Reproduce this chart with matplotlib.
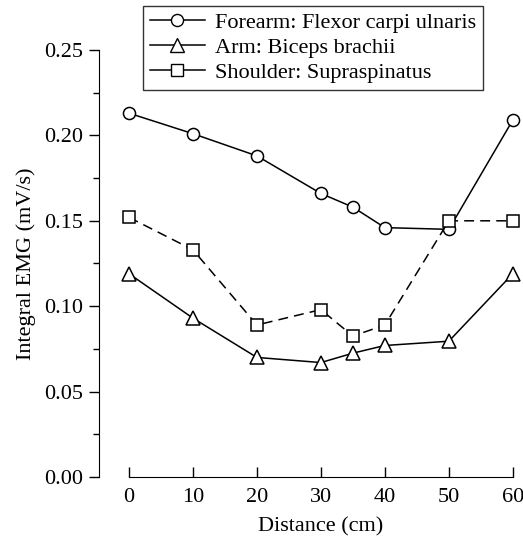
import matplotlib.pyplot as plt
import numpy as np
from matplotlib.lines import Line2D
from matplotlib.ticker import MultipleLocator

plt.rcParams['font.family'] = ['Liberation Serif', 'DejaVu Serif']

distance = [0, 10, 20, 30, 35, 40, 50, 60]
forearm = [0.213, 0.201, 0.188, 0.166, 0.158, 0.146, 0.145, 0.209]
arm = [0.119, 0.093, 0.070, 0.067, 0.0725, 0.077, 0.0795, 0.119]
shoulder = [0.152, 0.133, 0.089, 0.098, 0.0825, 0.089, 0.150, 0.150]

labels = ['Forearm: Flexor carpi ulnaris', 'Arm: Biceps brachii',
          'Shoulder: Supraspinatus']
xticks = [0, 10, 20, 30, 40, 50, 60]

fs = 16
W, H = 523, 539
fig = plt.figure(figsize=(W / 100, H / 100), dpi=100)
ax = fig.add_axes([99 / W, 62 / H, 417 / W, 427 / H])

mk = dict(color='black', lw=1.1, mfc='white', mec='black', mew=1.1, clip_on=False)
ax.plot(distance, forearm, '-', marker='o', ms=8.7, **mk)
ax.plot(distance, arm, '-', marker='^', ms=9.5, **mk)
ax.plot(distance, shoulder, '--', marker='s', ms=8.2, dashes=(6.5, 4), **mk)

ax.set_xlim(-4.69, 60.5)
ax.set_ylim(0, 0.25)
ax.spines['top'].set_visible(False)
ax.spines['right'].set_visible(False)
ax.spines['bottom'].set_bounds(0, 60)
ax.spines['left'].set_bounds(0, 0.25)

ax.set_xticks(xticks)
ax.yaxis.set_major_locator(MultipleLocator(0.05))
ax.yaxis.set_minor_locator(MultipleLocator(0.025))
ax.yaxis.set_major_formatter(lambda v, p: f'{v:.2f}')
ax.tick_params(axis='x', direction='in', length=7, width=1, labelsize=fs, pad=8)
ax.tick_params(axis='y', which='major', direction='out', length=7.5, width=1, labelsize=fs, pad=4)
ax.tick_params(axis='y', which='minor', direction='out', length=4.5, width=1)

ax.set_xlabel('Distance (cm)', fontsize=fs)
ax.xaxis.set_label_coords((320.5 - 99) / 417, -40 / 427)
ax.set_ylabel('Integral EMG (mV/s)', fontsize=fs, labelpad=6)

handles = [
    Line2D([], [], color='black', lw=1.1, marker='o', ms=8.7, mfc='white', mec='black'),
    Line2D([], [], color='black', lw=1.1, marker='^', ms=9.5, mfc='white', mec='black'),
    Line2D([], [], color='black', lw=1.1, marker='s', ms=8.2, mfc='white', mec='black'),
]
leg = fig.legend(handles, labels, loc='upper left', bbox_to_anchor=(143 / W, 1 - 6 / H),
                 fontsize=fs, frameon=True, fancybox=False, edgecolor='black',
                 handlelength=2.5, handletextpad=0.45, borderpad=0.3, labelspacing=0.2,
                 borderaxespad=0)
leg.get_frame().set_linewidth(1.0)

fig.savefig('out.png', dpi=100)
